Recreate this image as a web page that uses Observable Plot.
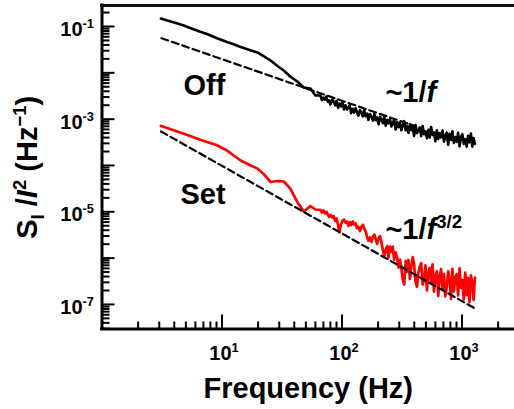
<!DOCTYPE html>
<html><head><meta charset="utf-8">
<script src="https://cdn.jsdelivr.net/npm/d3@7"></script>
<script src="https://cdn.jsdelivr.net/npm/@observablehq/plot@0.6"></script>
<style>html,body{margin:0;padding:0;background:#fff;overflow:hidden}</style>
</head><body><div id="chart"></div>
<script>
// Frequency (Hz) sample points
const freq = [3.1,3.5,4,4.8,5.5,6.5,7.5,9,11,12.5,
  14.3,17,19.7,22,25.4,29,32.7,37,42.4,48,54.6,60,
  66,68,70,72,74,76,78,80,83,85,
  88,90,93,95,98,101,104,107,110,113,
  116,119,123,126,130,133,137,141,145,149,
  153,157,162,166,171,176,181,186,191,196,
  202,207,213,219,225,231,238,244,251,258,
  265,272,280,288,296,304,312,321,330,339,
  348,358,368,378,388,399,410,421,433,445,
  457,470,483,496,510,524,538,553,568,584,
  600,617,634,651,669,688,707,726,746,767,
  788,810,832,855,879,903,928,954,980,1007,
  1035,1064,1093,1123,1154,1186,1219,1249,1280];
// S_I/I^2 for the "Off" state (black)
const offS = [0.149,0.135,0.122,0.105,0.0919,0.0780,0.0689,0.0565,0.0463,0.0415,
  0.0361,0.0311,0.0275,0.0231,0.01846,0.01404,0.01123,0.00833,0.0065,0.00482,0.00459,0.00324,
  3.30e-3,2.59e-3,2.92e-3,2.62e-3,3.07e-3,2.39e-3,2.55e-3,2.06e-3,2.65e-3,2.41e-3,
  1.97e-3,2.49e-3,1.75e-3,2.18e-3,1.88e-3,2.32e-3,1.61e-3,1.99e-3,1.62e-3,1.77e-3,
  2.00e-3,1.35e-3,1.67e-3,1.38e-3,1.72e-3,1.42e-3,1.19e-3,1.56e-3,1.36e-3,1.15e-3,
  1.59e-3,1.16e-3,1.32e-3,9.62e-4,1.29e-3,1.12e-3,9.31e-4,1.29e-3,9.46e-4,1.09e-3,
  7.73e-4,1.13e-3,9.95e-4,8.17e-4,1.14e-3,7.26e-4,9.62e-4,8.09e-4,1.01e-3,6.95e-4,
  8.22e-4,9.73e-4,5.97e-4,8.59e-4,6.75e-4,8.51e-4,5.75e-4,7.31e-4,9.06e-4,5.73e-4,
  7.11e-4,5.02e-4,7.73e-4,5.78e-4,6.82e-4,4.34e-4,7.50e-4,5.00e-4,5.75e-4,6.64e-4,
  4.29e-4,7.10e-4,4.71e-4,5.48e-4,3.85e-4,5.89e-4,3.99e-4,6.79e-4,4.57e-4,5.16e-4,
  3.34e-4,5.75e-4,3.72e-4,5.02e-4,4.01e-4,5.69e-4,3.26e-4,4.31e-4,5.12e-4,2.80e-4,
  4.81e-4,3.54e-4,5.47e-4,3.08e-4,4.11e-4,3.24e-4,5.06e-4,2.60e-4,4.08e-4,4.73e-4,
  2.93e-4,3.67e-4,2.56e-4,4.39e-4,3.16e-4,4.89e-4,2.54e-4,3.92e-4,2.93e-4];
// S_I/I^2 for the "Set" state (red)
const setS = [7.12e-4,6.45e-4,5.69e-4,4.83e-4,4.27e-4,3.64e-4,3.21e-4,2.77e-4,2.11e-4,1.64e-4,
  1.28e-4,1.02e-4,8.61e-5,6.72e-5,4.40e-5,4.63e-5,4.51e-5,3.19e-5,1.63e-5,1.016e-5,1.335e-5,1.122e-5,
  1.10e-5,9.66e-6,1.07e-5,9.18e-6,1.01e-5,8.91e-6,7.73e-6,8.59e-6,7.59e-6,8.09e-6,
  6.28e-6,7.19e-6,4.99e-6,3.59e-6,5.28e-6,6.43e-6,6.76e-6,5.81e-6,6.12e-6,5.00e-6,
  6.01e-6,5.15e-6,6.18e-6,5.31e-6,5.61e-6,4.41e-6,4.80e-6,3.82e-6,4.76e-6,5.25e-6,
  4.43e-6,3.85e-6,2.83e-6,2.38e-6,2.79e-6,2.24e-6,2.94e-6,3.21e-6,2.57e-6,2.03e-6,
  2.68e-6,2.97e-6,2.24e-6,1.50e-6,1.12e-6,1.49e-6,1.81e-6,1.03e-6,1.77e-6,1.37e-6,
  1.77e-6,9.23e-7,1.33e-6,9.98e-7,6.25e-7,9.29e-7,6.18e-7,3.39e-7,2.69e-7,8.75e-7,
  5.09e-7,9.12e-7,3.56e-7,6.47e-7,1.05e-6,7.24e-7,3.11e-7,2.40e-7,4.84e-7,6.55e-7,
  7.80e-7,2.69e-7,3.48e-7,6.95e-7,2.02e-7,5.02e-7,6.12e-7,2.89e-7,7.38e-7,1.90e-7,
  3.93e-7,5.22e-7,1.52e-7,4.00e-7,5.78e-7,2.26e-7,4.52e-7,1.49e-7,2.36e-7,5.15e-7,
  3.44e-7,1.31e-7,5.86e-7,1.91e-7,3.85e-7,4.48e-7,1.57e-7,6.01e-7,2.29e-7,3.37e-7,
  1.28e-7,4.86e-7,1.58e-7,3.73e-7,1.12e-7,4.25e-7,2.82e-7,1.26e-7,3.78e-7];
// Guide lines (dashed) end points
const fitOffF = [3.13, 402];
const fitOffS = [0.0559, 7.15e-4];
const fitSetF = [3.1, 1296];
const fitSetS = [5.42e-4, 8.07e-8];
// Axis ticks
const xDomain = [1, 2738];
const yDomain = [2.95e-8, 0.284];
const xMajor = [1, 10, 100, 1000];
const xLabels = [10, 100, 1000];
const yMajor = [1e-7, 1e-6, 1e-5, 1e-4, 1e-3, 1e-2, 1e-1];
const yLabels = [1e-7, 1e-5, 1e-3, 1e-1];
const mantissas = [2,3,4,5,6,7,8,9];
// Annotations
const noteText = ["Off", "Set", "~1/*f*", "~1/*f*^{3/2}"];
const noteF = [4.78, 4.51, 230, 230];
const noteS = [3.24e-3, 1.51e-5, 2.29e-3, 2.53e-6];

const rows = freq.map((f, i) => ({f, off: offS[i], set: setS[i]}));
const fitOff = fitOffF.map((f, i) => ({f, s: fitOffS[i]}));
const fitSet = fitSetF.map((f, i) => ({f, s: fitSetS[i]}));
const notes = noteText.map((t, i) => ({t, f: noteF[i], s: noteS[i]}));
const xMinor = [1, 10, 100, 1000].flatMap(d => mantissas.map(m => m * d)).filter(v => v <= xDomain[1]);
const yMinor = [1e-8,1e-7,1e-6,1e-5,1e-4,1e-3,1e-2,1e-1].flatMap(d => mantissas.map(m => m * d))
  .filter(v => v >= yDomain[0] && v <= yDomain[1]);
const exp = d => Math.round(Math.log10(d));

const chart = Plot.plot({
  width: 514, height: 409,
  marginLeft: 101.5, marginRight: 0, marginTop: 5, marginBottom: 80.5,
  x: {type: "log", domain: xDomain, label: null},
  y: {type: "log", domain: yDomain, label: null},
  style: {fontFamily: "'Liberation Sans', Arial, sans-serif", fontWeight: "bold", color: "black", background: "white", overflow: "visible"},
  marks: [
    Plot.line(rows, {x: "f", y: "off", stroke: "black", strokeWidth: 2.6, strokeLinejoin: "round"}),
    Plot.line(rows, {x: "f", y: "set", stroke: "#ff0000", strokeWidth: 2.7, strokeLinejoin: "round"}),
    Plot.line(fitOff, {x: "f", y: "s", stroke: "black", strokeWidth: 2.2, strokeDasharray: "7,4"}),
    Plot.line(fitSet, {x: "f", y: "s", stroke: "black", strokeWidth: 2.2, strokeDasharray: "7,4"}),
    Plot.axisX(xMinor, {anchor: "bottom", tickSize: -7, strokeWidth: 2, tickFormat: () => "", label: null}),
    Plot.axisX(xMajor, {anchor: "bottom", tickSize: -14, strokeWidth: 2, tickFormat: () => "", label: null}),
    Plot.axisY(yMinor, {anchor: "left", tickSize: -8, strokeWidth: 2, tickFormat: () => "", label: null}),
    Plot.axisY(yMajor, {anchor: "left", tickSize: -13, strokeWidth: 2, tickFormat: () => "", label: null}),
    Plot.axisX(xLabels, {anchor: "bottom", tickSize: 0, tickPadding: 17, fontSize: 20, dx: 2, tickFormat: d => `10^{${exp(d)}}`, label: null}),
    Plot.axisY(yLabels, {anchor: "left", tickSize: 0, tickPadding: 8, fontSize: 20, dy: 3, tickFormat: d => `10^{${exp(d)}}`, label: null}),
    Plot.ruleX([xDomain[0]], {stroke: "black", strokeWidth: 3, strokeLinecap: "square"}),
    Plot.ruleY([yDomain[0]], {stroke: "black", strokeWidth: 3, strokeLinecap: "square"}),
    Plot.ruleY([yDomain[1]], {stroke: "#111", strokeWidth: 3, strokeLinecap: "square"}),
    Plot.text(notes, {x: "f", y: "s", text: "t", textAnchor: "start", lineAnchor: "bottom", fontSize: 29}),
    Plot.text(["Frequency (Hz)"], {frameAnchor: "bottom", dy: 68.5, lineAnchor: "bottom", fontSize: 29}),
    Plot.text(["S_{I} /*I*^{2} (Hz^{\u22121})"], {frameAnchor: "left", dx: -74, rotate: -90, textAnchor: "middle", fontSize: 29})
  ]
});
document.getElementById("chart").appendChild(chart);

// turn the small markup (^{sup}, _{sub}, *italic*) into real tspans
const svgNS = "http://www.w3.org/2000/svg";
chart.querySelectorAll("text").forEach(el => {
  const s = el.textContent;
  if (!/\^\{|_\{|\*/.test(s)) return;
  const size = parseFloat(getComputedStyle(el).fontSize) || 20;
  el.textContent = "";
  const re = /\^\{([^}]*)\}|_\{([^}]*)\}|\*([^*]*)\*|([^\^_*]+)/g;
  let m, shift = 0;
  while ((m = re.exec(s))) {
    const t = document.createElementNS(svgNS, "tspan");
    let target = 0;
    if (m[1] !== undefined) { t.textContent = m[1]; t.setAttribute("font-size", size * 0.64); target = -size * 0.4; }
    else if (m[2] !== undefined) { t.textContent = m[2]; t.setAttribute("font-size", size * 0.64); target = size * 0.22; }
    else if (m[3] !== undefined) { t.textContent = m[3]; t.setAttribute("font-style", "italic"); }
    else t.textContent = m[4];
    if (target !== shift) { t.setAttribute("dy", target - shift); shift = target; }
    el.appendChild(t);
  }
});
</script></body></html>
